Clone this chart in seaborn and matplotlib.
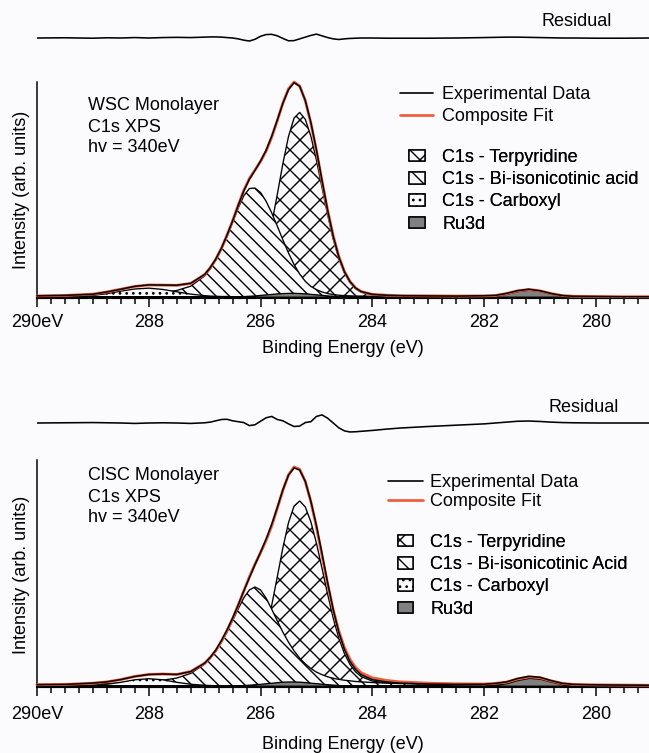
import matplotlib
matplotlib.use("Agg")
import numpy as np
import pandas as pd
import matplotlib.pyplot as plt
import seaborn as sns
from matplotlib.lines import Line2D
from matplotlib.patches import Patch
from matplotlib.ticker import MultipleLocator, FixedLocator, FixedFormatter

# ---------------- data ----------------
energy = [290.0, 289.5, 289.0, 288.75, 288.5, 288.25, 288.0, 287.75, 287.5, 287.25,
          287.0, 286.9, 286.8, 286.7, 286.6, 286.5, 286.4, 286.3, 286.2, 286.1,
          286.0, 285.9, 285.8, 285.7, 285.6, 285.5, 285.4, 285.3, 285.2, 285.1,
          285.0, 284.9, 284.8, 284.7, 284.6, 284.5, 284.4, 284.3, 284.2, 284.0,
          283.75, 283.5, 283.0, 282.5, 282.0, 281.8, 281.6, 281.4, 281.2, 281.0,
          280.8, 280.6, 280.4, 280.0, 279.5, 279.0]

# WSC monolayer (top panel)
wsc_terpyridine = [0, 0, 0, 0, 0, 0, 0, 0, 0.001, 0.001,
                   0.001, 0.002, 0.002, 0.003, 0.004, 0.006, 0.011, 0.022, 0.042, 0.078,
                   0.137, 0.224, 0.341, 0.478, 0.622, 0.748, 0.834, 0.860, 0.828, 0.749,
                   0.637, 0.509, 0.382, 0.269, 0.178, 0.111, 0.066, 0.037, 0.021, 0.009,
                   0.005, 0.004, 0.003, 0.002, 0.002, 0.001, 0.001, 0.001, 0.001, 0.001,
                   0.001, 0.001, 0.001, 0.001, 0, 0]
wsc_biisonicotinic = [0.004, 0.005, 0.006, 0.008, 0.009, 0.012, 0.015, 0.020, 0.029, 0.049,
                      0.097, 0.130, 0.171, 0.222, 0.281, 0.347, 0.414, 0.471, 0.505, 0.507,
                      0.486, 0.445, 0.391, 0.329, 0.265, 0.204, 0.150, 0.106, 0.072, 0.048,
                      0.033, 0.022, 0.015, 0.010, 0.007, 0.005, 0.004, 0.003, 0.003, 0.002,
                      0.002, 0.001, 0.001, 0.001, 0.001, 0, 0, 0, 0, 0,
                      0, 0, 0, 0, 0, 0]
wsc_carboxyl = [0, 0.001, 0.006, 0.014, 0.026, 0.036, 0.040, 0.034, 0.023, 0.012,
                0.005, 0.003, 0.002, 0.001, 0.001, 0, 0, 0, 0, 0,
                0, 0, 0, 0, 0, 0, 0, 0, 0, 0,
                0, 0, 0, 0, 0, 0, 0, 0, 0, 0,
                0, 0, 0, 0, 0, 0, 0, 0, 0, 0,
                0, 0, 0, 0, 0, 0]
wsc_ru3d = [0, 0, 0, 0, 0, 0, 0, 0, 0, 0,
            0, 0, 0, 0, 0.001, 0.001, 0.002, 0.003, 0.0045, 0.006,
            0.0085, 0.011, 0.013, 0.0155, 0.017, 0.018, 0.018, 0.017, 0.0155, 0.013,
            0.011, 0.0085, 0.006, 0.0045, 0.003, 0.002, 0.001, 0.001, 0, 0,
            0, 0, 0, 0, 0.001, 0.0045, 0.0136, 0.0264, 0.033, 0.0264,
            0.0136, 0.0045, 0.001, 0, 0, 0]
wsc_residual = [0.000, 0.001, -0.001, 0.001, 0.000, 0.002, 0.000, 0.002, 0.003, 0.002,
                0.004, 0.005, 0.005, 0.004, 0.002, 0.000, -0.004, -0.010, -0.014, -0.006,
                0.008, 0.016, 0.017, 0.010, -0.002, -0.013, -0.012, -0.004, 0.004, 0.012,
                0.018, 0.010, 0.002, -0.004, -0.007, -0.004, -0.002, -0.001, 0.000, 0.000,
                -0.001, -0.001, -0.001, 0.000, 0.002, 0.003, 0.004, 0.004, 0.003, 0.002,
                0.001, 0.000, 0.000, -0.001, -0.001, 0.000]

# ClSC monolayer (bottom panel)
clsc_terpyridine = [0, 0, 0.001, 0.001, 0.001, 0.001, 0.001, 0.001, 0.001, 0.002,
                    0.002, 0.003, 0.003, 0.004, 0.005, 0.008, 0.015, 0.029, 0.056, 0.100,
                    0.167, 0.261, 0.379, 0.514, 0.650, 0.768, 0.846, 0.870, 0.842, 0.772,
                    0.671, 0.552, 0.431, 0.318, 0.224, 0.152, 0.100, 0.065, 0.043, 0.022,
                    0.013, 0.008, 0.005, 0.004, 0.003, 0.003, 0.002, 0.002, 0.002, 0.002,
                    0.002, 0.002, 0.002, 0.002, 0.001, 0.001]
clsc_biisonicotinic = [0.005, 0.006, 0.009, 0.010, 0.012, 0.015, 0.019, 0.026, 0.036, 0.058,
                       0.102, 0.129, 0.163, 0.205, 0.253, 0.307, 0.362, 0.414, 0.451, 0.465,
                       0.451, 0.412, 0.360, 0.305, 0.252, 0.205, 0.164, 0.130, 0.103, 0.081,
                       0.064, 0.052, 0.042, 0.035, 0.030, 0.026, 0.023, 0.020, 0.018, 0.015,
                       0.012, 0.010, 0.007, 0.005, 0.004, 0.004, 0.003, 0.003, 0.003, 0.003,
                       0.002, 0.002, 0.002, 0.002, 0.002, 0.001]
clsc_carboxyl = [0, 0, 0.002, 0.007, 0.016, 0.028, 0.033, 0.028, 0.016, 0.007,
                 0.002, 0.001, 0, 0, 0, 0, 0, 0, 0, 0,
                 0, 0, 0, 0, 0, 0, 0, 0, 0, 0,
                 0, 0, 0, 0, 0, 0, 0, 0, 0, 0,
                 0, 0, 0, 0, 0, 0, 0, 0, 0, 0,
                 0, 0, 0, 0, 0, 0]
clsc_ru3d = [0, 0, 0, 0, 0, 0, 0, 0, 0, 0,
             0, 0, 0, 0, 0.001, 0.001, 0.002, 0.003, 0.005, 0.007,
             0.009, 0.012, 0.014, 0.017, 0.019, 0.020, 0.020, 0.019, 0.017, 0.014,
             0.012, 0.009, 0.007, 0.005, 0.003, 0.002, 0.001, 0.001, 0, 0,
             0, 0, 0, 0, 0.001, 0.004, 0.012, 0.027, 0.037, 0.033,
             0.019, 0.007, 0.002, 0, 0, 0]
clsc_residual = [0.000, 0.001, 0.002, 0.001, 0.000, -0.002, 0.000, 0.001, 0.000, -0.002,
                 0.001, 0.004, 0.010, 0.016, 0.017, 0.010, 0.006, 0.002, -0.012, -0.008,
                 0.008, 0.024, 0.030, 0.016, 0.010, -0.004, -0.016, -0.014, 0.002, 0.006,
                 0.030, 0.037, 0.022, 0.000, -0.022, -0.036, -0.041, -0.040, -0.038, -0.034,
                 -0.028, -0.023, -0.016, -0.010, -0.004, 0.000, 0.004, 0.008, 0.009, 0.007,
                 0.004, 0.002, 0.001, 0.000, 0.000, 0.000]

tick_values = [290, 288, 286, 284, 282, 280]
tick_labels = ["290eV", "288", "286", "284", "282", "280"]

wsc_text = ["WSC Monolayer", "C1s XPS", "hv = 340eV"]
clsc_text = ["ClSC Monolayer", "C1s XPS", "hv = 340eV"]
line_labels = ["Experimental Data", "Composite Fit"]
wsc_component_labels = ["C1s - Terpyridine", "C1s - Bi-isonicotinic acid",
                        "C1s - Carboxyl", "Ru3d"]
clsc_component_labels = ["C1s - Terpyridine", "C1s - Bi-isonicotinic Acid",
                         "C1s - Carboxyl", "Ru3d"]

# ---------------- style ----------------
sns.set_theme(style="white")
plt.rcParams["font.family"] = ["Liberation Sans", "DejaVu Sans"]
plt.rcParams["hatch.linewidth"] = 0.85
plt.rcParams["text.color"] = "black"
plt.rcParams["axes.labelcolor"] = "black"
plt.rcParams["xtick.color"] = "black"

W, H, DPI = 649, 753, 120
BG = "#fbfbfd"
RED = "#ef5a3a"
GRAY = "#808080"
FS = 10.8
RESID_GAIN = 4.0          # residual panel is magnified relative to the spectrum
XLIM = (290, 279.05)
HATCHES = ["xx", "\\\\\\", "...", None]
LEGEND_HATCHES = ["xx", "\\\\", "...", None]

fig = plt.figure(figsize=(W / DPI, H / DPI), dpi=DPI, facecolor=BG)


def rect(l, t, r, b):
    return [l / W, 1 - b / H, (r - l) / W, (b - t) / H]


def fxy(x, y):
    return (x / W, 1 - y / H)


def draw_panel(res_box, res_half, main_box, peak_frac, comps, resid, texts, text_x,
               text_y, res_label, ylabel_y, lines_leg, patch_leg, comp_labels,
               tick_pad, xlabel_pad):
    E = np.array(energy)
    comps = [np.array(c, dtype=float) for c in comps]
    resid = np.array(resid, dtype=float)
    composite = comps[0] + comps[1] + comps[2] + comps[3]
    experimental = composite + resid / RESID_GAIN
    df = pd.DataFrame({"E": E, "fit": composite, "exp": experimental, "res": resid})

    # residual strip
    axr = fig.add_axes(rect(*res_box))
    axr.set_facecolor("none")
    sns.lineplot(data=df, x="E", y="res", ax=axr, color="black", lw=0.95,
                 estimator=None, sort=False)
    axr.set_xlim(*XLIM)
    axr.set_ylim(-res_half, res_half)
    axr.axis("off")
    fig.text(*fxy(*res_label), "Residual", ha="right", va="center", fontsize=FS)

    # main spectrum
    ax = fig.add_axes(rect(*main_box))
    ax.set_facecolor("none")
    zs = [2, 3, 4, 5]
    for vals, hatch, z in zip(comps, HATCHES, zs):
        fc = GRAY if hatch is None else BG
        ax.fill_between(E, 0, vals, facecolor=fc, edgecolor="black", hatch=hatch,
                        lw=0.8, zorder=z)
    sns.lineplot(data=df, x="E", y="fit", ax=ax, color=RED, lw=1.7,
                 estimator=None, sort=False, zorder=6, clip_on=False)
    sns.lineplot(data=df, x="E", y="exp", ax=ax, color="black", lw=0.9,
                 estimator=None, sort=False, zorder=7, clip_on=False)

    ymin = -0.006
    cmax = composite.max()
    ymax = ymin + (cmax - ymin) / peak_frac
    ax.set_xlim(*XLIM)
    ax.set_ylim(ymin, ymax)
    ax.xaxis.set_major_locator(FixedLocator(tick_values))
    ax.xaxis.set_major_formatter(FixedFormatter(tick_labels))
    ax.xaxis.set_minor_locator(MultipleLocator(0.25))
    ax.tick_params(axis="x", which="major", direction="out", length=5.4, width=0.9,
                   pad=tick_pad, labelsize=FS, colors="black", bottom=True)
    ax.tick_params(axis="x", which="minor", direction="out", length=3.6, width=0.9,
                   colors="black", bottom=True)
    ax.set_yticks([])
    ax.set_ylabel("")
    ax.set_xlabel("Binding Energy (eV)", fontsize=FS, labelpad=xlabel_pad, color="black")
    for s in ["top", "right"]:
        ax.spines[s].set_visible(False)
    ax.spines["left"].set_linewidth(0.9)
    ax.spines["left"].set_color("black")
    ax.spines["bottom"].set_linewidth(1.3)
    ax.spines["bottom"].set_color("black")

    fig.text(*fxy(22, ylabel_y), "Intensity (arb. units)", rotation=90,
             ha="center", va="center", fontsize=FS)
    for i, t in enumerate(texts):
        fig.text(*fxy(text_x, text_y[i]), t, ha="left", va="center", fontsize=FS)

    # legends
    lx, ly, hl, pad, sp = lines_leg
    handles = [Line2D([], [], color="black", lw=1.0), Line2D([], [], color=RED, lw=1.6)]
    leg1 = ax.legend(handles, line_labels, loc="upper left",
                     bbox_to_anchor=fxy(lx, ly), bbox_transform=fig.transFigure,
                     frameon=False, fontsize=FS, handlelength=hl, handletextpad=pad,
                     labelspacing=sp, borderpad=0, borderaxespad=0)
    ax.add_artist(leg1)
    px, py, phl, ppad, psp = patch_leg
    phandles = []
    for hatch in LEGEND_HATCHES:
        fc = GRAY if hatch is None else BG
        phandles.append(Patch(facecolor=fc, edgecolor="black", hatch=hatch, lw=0.9))
    leg2 = ax.legend(phandles, comp_labels, loc="upper left",
                     bbox_to_anchor=fxy(px, py), bbox_transform=fig.transFigure,
                     frameon=False, fontsize=FS, handlelength=phl, handleheight=0.6,
                     handletextpad=ppad, labelspacing=psp, borderpad=0, borderaxespad=0)
    ax.add_artist(leg2)
    return ax


draw_panel(res_box=(37, 16, 649, 60), res_half=22 / 216,
           main_box=(37, 82, 649, 298), peak_frac=1.0,
           comps=[wsc_terpyridine, wsc_biisonicotinic, wsc_carboxyl, wsc_ru3d],
           resid=wsc_residual, texts=wsc_text, text_x=88, text_y=[106, 127, 148],
           res_label=(612, 21), ylabel_y=190,
           lines_leg=(400, 86, 1.85, 0.5, 0.27),
           patch_leg=(409, 149, 0.9, 0.95, 0.29),
           comp_labels=wsc_component_labels, tick_pad=4, xlabel_pad=5.5)

draw_panel(res_box=(37, 401, 649, 445), res_half=22 / 218.7,
           main_box=(37, 460, 649, 687), peak_frac=220 / 227,
           comps=[clsc_terpyridine, clsc_biisonicotinic, clsc_carboxyl, clsc_ru3d],
           resid=clsc_residual, texts=clsc_text, text_x=88, text_y=[475, 497, 518],
           res_label=(619, 407), ylabel_y=575,
           lines_leg=(388, 474, 1.95, 0.4, 0.13),
           patch_leg=(398, 534, 0.85, 0.95, 0.29),
           comp_labels=clsc_component_labels, tick_pad=6, xlabel_pad=8)

fig.savefig("out.png", dpi=DPI, facecolor=BG)
